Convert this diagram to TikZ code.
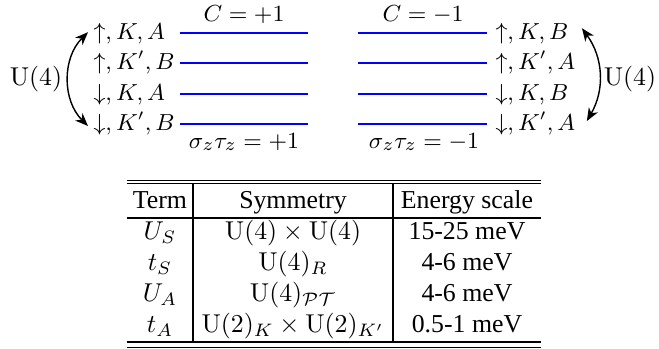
\documentclass[tikz,border=0pt]{standalone}
\usepackage[no-math]{fontspec}
\setmainfont{Liberation Serif}
\usepackage{amsmath}
\usetikzlibrary{arrows.meta,positioning}

\begin{document}
\begin{tikzpicture}[
  x=0.3876pt,y=-0.3876pt,
  lvl/.style={draw=blue,line width=0.45pt},
  state/.style={anchor=base west,inner sep=0pt,font=\fontsize{9}{11}\selectfont},
  lbl/.style={anchor=base,inner sep=0pt,font=\fontsize{9.3}{11}\selectfont},
  cell/.style={anchor=base,inner sep=0pt},
  trule/.style={draw=black,line width=0.4pt},
  ar/.style={{Stealth[length=5pt,width=4pt,inset=1.5pt]}-{Stealth[length=5pt,width=4pt,inset=1.5pt]},line width=0.55pt}
]
\useasboundingbox (0,0) rectangle (659,349);

\draw[lvl] (180,33) -- (308,33);
\draw[lvl] (180,63) -- (308,63);
\draw[lvl] (180,94) -- (308,94);
\draw[lvl] (180,124) -- (308,124);
\draw[lvl] (358,33) -- (487,33);
\draw[lvl] (358,63) -- (487,63);
\draw[lvl] (358,94) -- (487,94);
\draw[lvl] (358,124) -- (487,124);

\node[lbl] (cp) at (244,21) {$C=+1$};
\node[lbl] (cm) at (423,21) {$C=-1$};
\node[lbl] (sp) at (244,148) {$\sigma_z\tau_z=+1$};
\node[lbl] (sm) at (424,148) {$\sigma_z\tau_z=-1$};

\node[state] (l1) at (93,39) {$\uparrow,K,A$};
\node[state] (l2) at (93,69) {$\uparrow,K',B$};
\node[state] (l3) at (93,100) {$\downarrow,K,A$};
\node[state] (l4) at (93,130) {$\downarrow,K',B$};
\node[state] (r1) at (495,39) {$\uparrow,K,B$};
\node[state] (r2) at (495,69) {$\uparrow,K',A$};
\node[state] (r3) at (495,100) {$\downarrow,K,B$};
\node[state] (r4) at (495,130) {$\downarrow,K',A$};

\node (uL) at (36,79) {$\mathrm{U}(4)$};
\node (uR) at (630,79) {$\mathrm{U}(4)$};

\draw[ar] ([shift={(-5,-1)}]l1.west) to[bend right=45] ([shift={(-5,3)}]l4.west);
\draw[ar] ([shift={(13,-5)}]r1.east) to[bend left=33] ([shift={(11,-2)}]r4.east);

\draw[trule] (127,180.5) -- (541,180.5);
\draw[trule] (127,183.5) -- (541,183.5);
\draw[trule] (127,218) -- (541,218);
\draw[trule] (127,342) -- (541,342);
\draw[trule] (127,347.5) -- (541,347.5);
\draw[trule] (193,183.5) -- (193,342);
\draw[trule] (393,183.5) -- (393,342);

\node[cell] (h1) at (160,208) {Term};
\node[cell] (h2) at (293,208) {Symmetry};
\node[cell] (h3) at (467,208) {Energy scale};

\node[cell] (a1) at (160,239.7) {$U_S$};
\node[cell] (a2) at (293,239.7) {$\mathrm{U}(4)\times\mathrm{U}(4)$};
\node[cell] (a3) at (467,239.7) {15-25 meV};

\node[cell] (b1) at (160,270.7) {$t_S$};
\node[cell] (b2) at (293,270.7) {$\mathrm{U}(4)_R$};
\node[cell] (b3) at (467,270.7) {4-6 meV};

\node[cell] (c1) at (160,301.7) {$U_A$};
\node[cell] (c2) at (293,301.7) {$\mathrm{U}(4)_{\mathcal{PT}}$};
\node[cell] (c3) at (467,301.7) {4-6 meV};

\node[cell] (d1) at (160,332.7) {$t_A$};
\node[cell] (d2) at (293,332.7) {$\mathrm{U}(2)_K\times\mathrm{U}(2)_{K'}$};
\node[cell] (d3) at (467,332.7) {0.5-1 meV};
\end{tikzpicture}
\end{document}
